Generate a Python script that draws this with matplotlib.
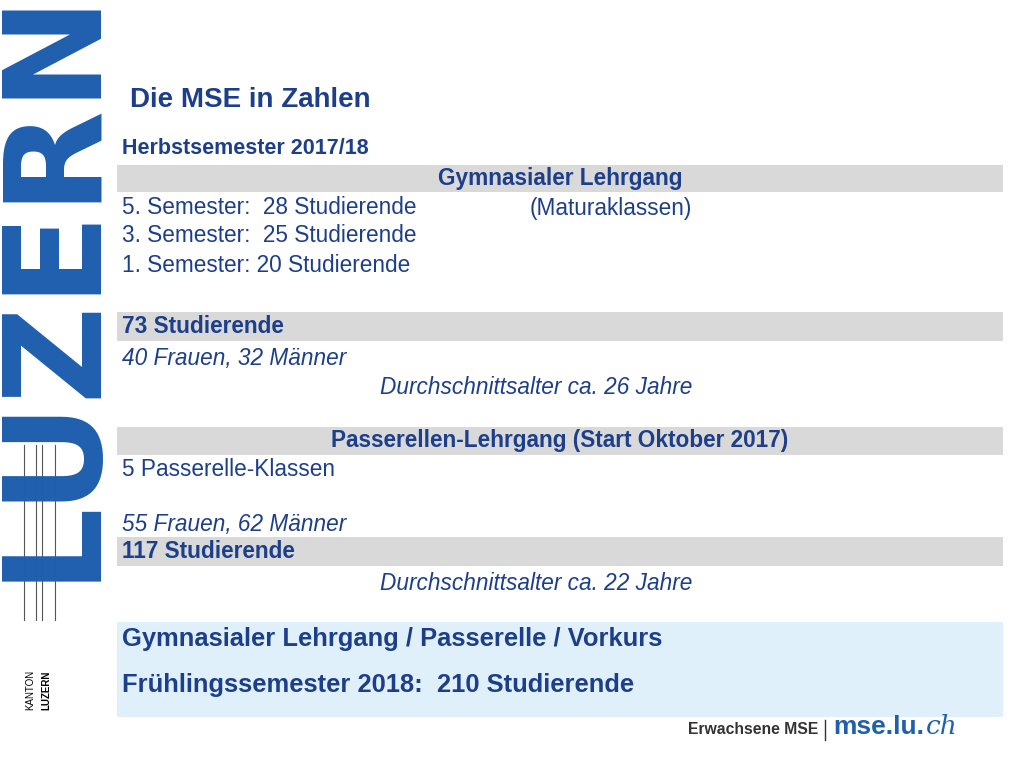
import matplotlib
matplotlib.use("Agg")
import matplotlib.pyplot as plt
from matplotlib.patches import Rectangle

title = "Die MSE in Zahlen"
subtitle = "Herbstsemester 2017/18"
bar_labels = ["Gymnasialer Lehrgang", "73 Studierende", "Passerellen-Lehrgang (Start Oktober 2017)", "117 Studierende"]
bar_centered = [True, False, True, False]
bar_tops = [165, 312, 427, 537]
bar_heights = [27, 29, 28, 29]
plain_lines = [("5. Semester:  28 Studierende", 122, 208, "normal"),
               ("(Maturaklassen)", 530, 208, "normal"),
               ("3. Semester:  25 Studierende", 122, 235, "normal"),
               ("1. Semester: 20 Studierende", 122, 265, "normal"),
               ("40 Frauen, 32 Männer", 122, 358, "italic"),
               ("Durchschnittsalter ca. 26 Jahre", 380, 388, "italic"),
               ("5 Passerelle-Klassen", 122, 470, "normal"),
               ("55 Frauen, 62 Männer", 122, 525, "italic"),
               ("Durchschnittsalter ca. 22 Jahre", 380, 583, "italic")]
box_lines = ["Gymnasialer Lehrgang / Passerelle / Vorkurs", "Frühlingssemester 2018:  210 Studierende"]

fig = plt.figure(figsize=(10.24, 7.68), dpi=100)
ax = fig.add_axes([0, 0, 1, 1])
ax.set_xlim(0, 1024); ax.set_ylim(768, 0); ax.axis("off")
blue = "#1f5fae"; dark = "#1d3f8a"
fs = dict(family="Liberation Sans")

ax.text(52, 283, "LUZERN", rotation=90, ha="center", va="center", color=blue,
        fontsize=97, fontweight="bold", family="Liberation Sans Narrow")
for x in [24, 36, 42, 55]:
    ax.plot([x, x], [445, 620], color="#555555", lw=0.8)
ax.text(30, 690, "KANTON", rotation=90, ha="center", va="center", fontsize=7, **fs)
ax.text(46, 690, "LUZERN", rotation=90, ha="center", va="center", fontsize=7, fontweight="bold", **fs)

ax.text(130, 100, title, ha="left", va="center", fontsize=20, fontweight="bold", color=dark, **fs)
ax.text(122, 149, subtitle, ha="left", va="center", fontsize=15.5, fontweight="bold", color=dark, **fs)
for lab, c, t, h in zip(bar_labels, bar_centered, bar_tops, bar_heights):
    ax.add_patch(Rectangle((117, t), 886, h, color="#d9d9d9", lw=0))
    ax.text(560 if c else 122, t + h / 2, lab, ha="center" if c else "left", va="center",
            fontsize=16.3, fontweight="bold", color=dark, **fs)
for s, x, y, st in plain_lines:
    ax.text(x, y, s, ha="left", va="center", fontsize=16.3, style=st, color=dark, **fs)

ax.add_patch(Rectangle((117, 622), 886, 95, color="#dff0fa", lw=0))
for i, s in enumerate(box_lines):
    ax.text(122, 639 + 46 * i, s, ha="left", va="center", fontsize=18.4, fontweight="bold", color=dark, **fs)

ax.text(818, 730, "Erwachsene MSE", ha="right", va="center", fontsize=11.3, fontweight="bold", color="#333333", **fs)
ax.plot([825, 825], [720, 740], color="#333333", lw=1)
ax.text(833, 727, "mse.lu.", ha="left", va="center", fontsize=19, fontweight="bold", color=blue, **fs)
ax.text(926, 727, "ch", ha="left", va="center", fontsize=19, style="italic", color=blue, family="DejaVu Serif")
fig.savefig("out.png", dpi=100)
